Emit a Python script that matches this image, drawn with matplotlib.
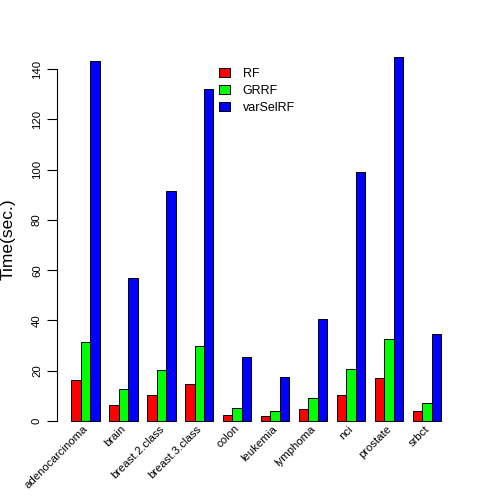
import numpy as np
import matplotlib.pyplot as plt
from matplotlib.patches import Patch

plt.rcParams['font.family'] = ['Liberation Sans', 'DejaVu Sans']

datasets = ['adenocarcinoma', 'brain', 'breast.2.class', 'breast.3.class', 'colon',
            'leukemia', 'lymphoma', 'nci', 'prostate', 'srbct']
methods = ['RF', 'GRRF', 'varSelRF']
rf = [16.3, 6.2, 10.2, 14.8, 2.5, 2.0, 4.8, 10.2, 17.1, 3.8]
grrf = [31.4, 12.6, 20.2, 29.7, 5.0, 3.8, 9.0, 20.8, 32.5, 7.3]
varselrf = [143.3, 56.7, 91.6, 132.1, 25.3, 17.5, 40.6, 99.2, 144.8, 34.5]
colors = ['#ff0000', '#00ff00', '#0000ff']

fig = plt.figure(figsize=(4.85, 4.96), dpi=100)
ax = fig.add_axes([0.1165, 0.1218, 0.9398 - 0.1165, 0.9145 - 0.1218])

# barplot beside=TRUE style: 3 bars per group, one bar of space before each group
grp = np.arange(len(datasets)) * 4
for k, vals in enumerate([rf, grrf, varselrf]):
    ax.bar(grp + 1 + k, vals, width=1, align='edge', color=colors[k],
           edgecolor='black', linewidth=0.7)

top = max(varselrf)
ax.set_xlim(1 - 0.04 * 39, 40 + 0.04 * 39)
ax.set_ylim(-0.04 * top, top * 1.04)

for s in ['top', 'right', 'bottom']:
    ax.spines[s].set_visible(False)
ax.spines['left'].set_bounds(0, 140)
ax.spines['left'].set_linewidth(0.8)
ax.set_xticks([])
ax.set_yticks(np.arange(0, 141, 20))
ax.tick_params(axis='y', length=7, width=0.8, pad=3.5, labelsize=8.2, labelrotation=90)
for lab in ax.get_yticklabels():
    lab.set_va('center')

for i, name in enumerate(datasets):
    ax.text(grp[i] + 2.6, -2.4, name, rotation=45, ha='right', va='center',
            rotation_mode='anchor', fontsize=8.2)

fig.text(8 / 485, 0.518, 'Time(sec.)', rotation=90, ha='center', va='center', fontsize=12.5)

handles = [Patch(facecolor=c, edgecolor='black', linewidth=0.7) for c in colors]
ax.legend(handles, methods, loc='upper left', bbox_to_anchor=(219 / 485, 1 - 68 / 496),
          bbox_transform=fig.transFigure, frameon=False, fontsize=9,
          handlelength=0.9, handleheight=0.7, handletextpad=1.0,
          labelspacing=0.4, borderpad=0, borderaxespad=0)

fig.savefig('out.png', dpi=100)
